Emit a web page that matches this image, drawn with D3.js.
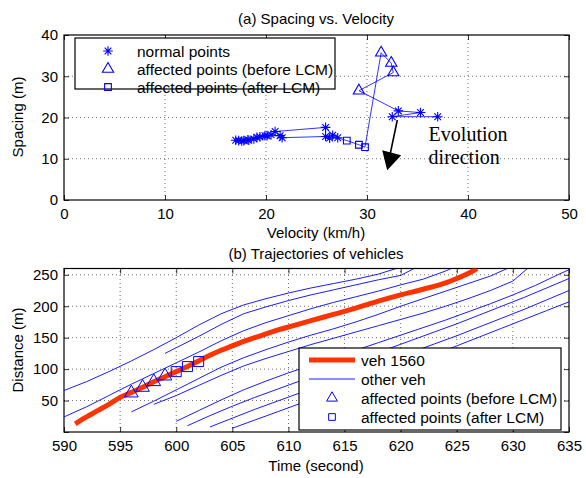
<!DOCTYPE html>
<html>
<head>
<meta charset="utf-8">
<script src="https://cdn.jsdelivr.net/npm/d3@7"></script>
<style>
  body { margin: 0; background: #fff; }
  svg { display: block; font-family: "Liberation Sans", Arial, sans-serif; }
</style>
</head>
<body>
<svg id="chart" width="586" height="478"></svg>
<script>
// ---- (a) spacing vs velocity, in time order ----
const velocity = [37.0, 32.5, 35.3, 33.1, 29.2, 32.6, 32.4, 31.4, 29.8, 29.2, 28.0, 27.1, 26.6, 25.9,
  20.9, 20.5, 19.9, 19.4, 18.8, 18.3, 17.8, 17.3, 17.0, 17.6, 18.2, 19.1, 20.1, 21.4, 21.6, 25.9, 26.3]
const spacing = [20.2, 20.2, 21.2, 21.6, 26.5, 30.9, 33.2, 35.7, 12.8, 13.4, 14.4, 15.1, 15.7, 17.6,
  16.6, 15.8, 15.6, 15.3, 14.8, 14.5, 14.4, 14.4, 14.5, 14.3, 14.6, 15.2, 15.6, 15.6, 15.1, 15.4, 15.0]
const pointKind = ['n', 'n', 'n', 'n', 't', 't', 't', 't', 's', 's', 's', 'n', 'n', 'n',
  'n', 'n', 'n', 'n', 'n', 'n', 'n', 'n', 'n', 'n', 'n', 'n', 'n', 'n', 'n', 'n', 'n']
const legendA = ['normal points', 'affected points (before LCM)', 'affected points (after LCM)']

// ---- (b) trajectories ----
const veh1560T = [591, 592, 593, 594, 595, 596, 597, 598, 599, 600, 601, 602, 603, 604, 605, 606, 607, 608, 609, 610,
  612, 614, 616, 618, 620, 622, 624, 625, 626, 626.8]
const veh1560D = [13, 24, 34, 44, 55, 63, 71, 80, 88, 96, 104, 113, 122, 130, 137, 144, 150, 156, 162, 167,
  177, 187, 197, 208, 218, 227, 237, 244, 252, 260]

const otherVeh = [
  { t: [590, 592, 594, 596, 598, 600, 602, 604, 606, 608, 610, 612, 614, 616, 618, 619.6],
    d: [66, 80, 96, 113, 131, 150, 170, 188, 202, 212, 221, 229, 236, 243, 251, 260] },
  { t: [599, 600, 602, 604, 606, 608, 610, 612, 614, 616, 618, 620, 621.2],
    d: [125, 134, 152, 171, 188, 199, 209, 218, 226, 234, 242, 249, 260] },
  { t: [590, 592, 594, 596, 598, 600, 602, 604, 606, 608, 610, 612, 614, 616, 618, 620, 622, 624, 624.5],
    d: [24, 40, 58, 76, 93, 110, 127, 145, 161, 174, 185, 196, 206, 215, 224, 234, 243, 256, 260] },
  { t: [596, 598, 600, 602, 604, 606, 608, 610, 612, 614, 616, 618, 620, 622, 624, 626, 628, 629.5],
    d: [32, 49, 67, 85, 103, 118, 131, 143, 154, 164, 175, 187, 200, 212, 224, 236, 248, 260] },
  { t: [598, 600, 602, 604, 606, 608, 610, 612, 614, 616, 618, 620, 622, 624, 626, 628, 630, 631.3],
    d: [44, 58, 74, 90, 105, 117, 128, 139, 149, 159, 169, 179, 189, 200, 212, 225, 240, 260] },
  { t: [600, 602, 604, 606, 608, 610, 612, 614, 616, 618, 620, 622, 624, 626, 628, 630, 632, 634, 635],
    d: [17, 34, 51, 67, 81, 94, 106, 118, 130, 142, 154, 166, 178, 191, 204, 218, 233, 250, 258] },
  { t: [601, 603, 605, 607, 609, 611, 613, 615, 617, 619, 621, 623, 625, 627, 629, 631, 633, 635],
    d: [10, 26, 41, 55, 68, 81, 94, 107, 120, 133, 146, 159, 172, 186, 200, 214, 229, 244] },
  { t: [603, 605, 607, 609, 611, 613, 615, 617, 619, 621, 623, 625, 627, 629, 631, 633, 635],
    d: [8, 22, 36, 49, 62, 75, 88, 101, 114, 127, 140, 153, 167, 181, 195, 210, 225] },
  { t: [605, 607, 609, 611, 613, 615, 617, 619, 621, 623, 625, 627, 629, 631, 633, 635],
    d: [6, 19, 32, 45, 58, 71, 84, 97, 110, 123, 137, 151, 165, 179, 193, 207] }
]
const beforeT = [596, 597, 598, 599]
const beforeD = [62, 71, 80, 89]
const afterT = [600, 601, 602]
const afterD = [96, 104, 112]
const legendB = ['veh 1560', 'other veh', 'affected points (before LCM)', 'affected points (after LCM)']

const svg = d3.select('#chart')
const blue = '#0000ff'
const red = '#ff3300'

function asterisk(r) {
    const k = r * 0.7
    return `M${-r},0L${r},0M0,${-r}L0,${r}M${-k},${-k}L${k},${k}M${-k},${k}L${k},${-k}`
}

function drawFrame(g, x, y, xTicks, yTicks, yLabelFmt) {
    const [x0, x1] = x.range()
    const [y0, y1] = y.range()
    // dotted grid
    g.append('g').selectAll('line').data(xTicks.slice(1, -1)).join('line')
        .attr('x1', d => x(d)).attr('x2', d => x(d)).attr('y1', y0).attr('y2', y1)
        .attr('stroke', '#000').attr('stroke-width', 0.8).attr('stroke-dasharray', '1,3').attr('opacity', 0.7)
    g.append('g').selectAll('line').data(yTicks.filter(v => v > y.domain()[0] && v < y.domain()[1])).join('line')
        .attr('y1', d => y(d)).attr('y2', d => y(d)).attr('x1', x0).attr('x2', x1)
        .attr('stroke', '#000').attr('stroke-width', 0.8).attr('stroke-dasharray', '1,3').attr('opacity', 0.7)

    const bottom = g.append('g').attr('transform', `translate(0,${y0})`)
        .call(d3.axisBottom(x).tickValues(xTicks).tickSizeInner(-5).tickSizeOuter(0).tickPadding(5))
    bottom.selectAll('text').attr('dy', '0.95em')
    g.append('g').attr('transform', `translate(0,${y1})`)
        .call(d3.axisTop(x).tickValues(xTicks).tickSizeInner(-5).tickSizeOuter(0).tickFormat(''))
    g.append('g').attr('transform', `translate(${x0},0)`)
        .call(d3.axisLeft(y).tickValues(yTicks).tickSizeInner(-5).tickSizeOuter(0).tickPadding(6)
            .tickFormat(yLabelFmt || (d => d)))
    g.append('g').attr('transform', `translate(${x1},0)`)
        .call(d3.axisRight(y).tickValues(yTicks).tickSizeInner(-5).tickSizeOuter(0).tickFormat(''))
    g.selectAll('.domain').remove()
    g.selectAll('.tick line').attr('stroke', '#000').attr('stroke-width', 0.8)
    g.selectAll('.tick text').attr('font-size', 15).attr('fill', '#000')
        .attr('font-family', '"Liberation Sans", Arial, sans-serif')
    g.append('rect').attr('x', x0).attr('y', y1).attr('width', x1 - x0).attr('height', y0 - y1)
        .attr('fill', 'none').attr('stroke', '#000').attr('stroke-width', 1.2)
}

function marker(sel, kind, size) {
    if (kind === 'n') return sel.attr('d', asterisk(size))
    if (kind === 't') return sel.attr('d', d3.symbol(d3.symbolTriangle, size)())
    return sel.attr('d', d3.symbol(d3.symbolSquare, size)())
}

// ================= (a) =================
const xA = d3.scaleLinear().domain([0, 50]).range([64, 569])
const yA = d3.scaleLinear().domain([0, 40]).range([200, 35])
const gA = svg.append('g')
drawFrame(gA, xA, yA, [0, 10, 20, 30, 40, 50], [0, 10, 20, 30, 40])

const markSize = { n: 4.8, t: 55, s: 45 }
const ptsA = velocity.map((v, i) => ({ v: v, s: spacing[i], k: pointKind[i] }))
gA.append('path').datum(ptsA)
    .attr('fill', 'none').attr('stroke', blue).attr('stroke-width', 0.8)
    .attr('d', d3.line().x(d => xA(d.v)).y(d => yA(d.s)))
gA.append('g').selectAll('path').data(ptsA).join('path')
    .attr('transform', d => `translate(${xA(d.v)},${yA(d.s)})`)
    .attr('fill', 'none').attr('stroke', blue).attr('stroke-width', 1.1)
    .each(function (d) { marker(d3.select(this), d.k, markSize[d.k]) })

// evolution arrow (data units)
const arrowFrom = [33.0, 19.4], arrowTo = [32.0, 7.2]
gA.append('line')
    .attr('x1', xA(arrowFrom[0])).attr('y1', yA(arrowFrom[1]))
    .attr('x2', xA(32.3)).attr('y2', yA(11.2))
    .attr('stroke', '#000').attr('stroke-width', 1.6)
const tip = [xA(arrowTo[0]), yA(arrowTo[1])]
gA.append('path')
    .attr('d', `M${tip[0]},${tip[1]}L${tip[0] - 5},${tip[1] - 20}L${tip[0] + 14},${tip[1] - 15}Z`)
    .attr('fill', '#000')
gA.append('text').attr('x', xA(36.1)).attr('y', yA(14.3))
    .attr('font-family', '"Liberation Serif", "Times New Roman", serif').attr('font-size', 20)
    .text('Evolution')
gA.append('text').attr('x', xA(36.1)).attr('y', yA(8.8))
    .attr('font-family', '"Liberation Serif", "Times New Roman", serif').attr('font-size', 20)
    .text('direction')

// legend (a)
const legA = gA.append('g').attr('transform', 'translate(75,38)')
legA.append('rect').attr('width', 260).attr('height', 51).attr('fill', '#fff')
    .attr('stroke', '#000').attr('stroke-width', 1.2)
const legKinds = ['n', 't', 's']
legendA.forEach((label, i) => {
    const row = legA.append('g').attr('transform', `translate(0,${13 + i * 18})`)
    marker(row.append('path'), legKinds[i], markSize[legKinds[i]])
        .attr('transform', 'translate(33,0)')
        .attr('fill', 'none').attr('stroke', blue).attr('stroke-width', 1.1)
    row.append('text').attr('x', 62).attr('y', 5.5).attr('font-size', 15.5).text(label)
})

svg.append('text').attr('x', 316).attr('y', 23.5).attr('text-anchor', 'middle')
    .attr('font-size', 15).text('(a) Spacing vs. Velocity')
svg.append('text').attr('x', 316).attr('y', 238).attr('text-anchor', 'middle')
    .attr('font-size', 15).text('Velocity (km/h)')
svg.append('text').attr('transform', 'translate(23,117) rotate(-90)').attr('text-anchor', 'middle')
    .attr('font-size', 15).text('Spacing (m)')

// ================= (b) =================
const xB = d3.scaleLinear().domain([590, 635]).range([64, 569])
const yB = d3.scaleLinear().domain([0, 260]).range([432, 268.5])
const gB = svg.append('g')
svg.append('clipPath').attr('id', 'clipB').append('rect')
    .attr('x', 64).attr('y', 268.5).attr('width', 505).attr('height', 163.5)
drawFrame(gB, xB, yB, d3.range(590, 636, 5), [0, 50, 100, 150, 200, 250], d => d === 0 ? '' : d)

const lineB = d3.line().x(d => xB(d[0])).y(d => yB(d[1]))
const plotB = gB.append('g').attr('clip-path', 'url(#clipB)')
plotB.selectAll('.other').data(otherVeh).join('path').attr('class', 'other')
    .attr('d', v => lineB(v.t.map((t, i) => [t, v.d[i]])))
    .attr('fill', 'none').attr('stroke', blue).attr('stroke-width', 0.9)
plotB.append('path').datum(veh1560T.map((t, i) => [t, veh1560D[i]]))
    .attr('d', d3.line().curve(d3.curveMonotoneX).x(d => xB(d[0])).y(d => yB(d[1])))
    .attr('fill', 'none').attr('stroke', red).attr('stroke-width', 5)
plotB.selectAll('.before').data(beforeT).join('path').attr('class', 'before')
    .attr('transform', (t, i) => `translate(${xB(t)},${yB(beforeD[i])})`)
    .attr('d', d3.symbol(d3.symbolTriangle, 80)())
    .attr('fill', 'none').attr('stroke', blue).attr('stroke-width', 1)
plotB.selectAll('.after').data(afterT).join('path').attr('class', 'after')
    .attr('transform', (t, i) => `translate(${xB(t)},${yB(afterD[i])})`)
    .attr('d', d3.symbol(d3.symbolSquare, 100)())
    .attr('fill', 'none').attr('stroke', blue).attr('stroke-width', 1)

// legend (b)
const legB = gB.append('g').attr('transform', 'translate(299,348)')
legB.append('rect').attr('width', 262).attr('height', 82).attr('fill', '#fff')
    .attr('stroke', '#000').attr('stroke-width', 1.2)
legendB.forEach((label, i) => {
    const row = legB.append('g').attr('transform', `translate(0,${12 + i * 19})`)
    if (i === 0) {
        row.append('line').attr('x1', 10).attr('x2', 56).attr('stroke', red).attr('stroke-width', 5)
    } else if (i === 1) {
        row.append('line').attr('x1', 10).attr('x2', 56).attr('stroke', blue).attr('stroke-width', 0.9)
    } else {
        marker(row.append('path'), i === 2 ? 't' : 's', i === 2 ? 50 : 45)
            .attr('transform', 'translate(33,0)')
            .attr('fill', 'none').attr('stroke', blue).attr('stroke-width', 1)
    }
    row.append('text').attr('x', 62).attr('y', 5.5).attr('font-size', 15.5).text(label)
})

svg.append('text').attr('x', 316).attr('y', 259).attr('text-anchor', 'middle')
    .attr('font-size', 15).text('(b) Trajectories of vehicles')
svg.append('text').attr('x', 316).attr('y', 471).attr('text-anchor', 'middle')
    .attr('font-size', 15).text('Time (second)')
svg.append('text').attr('transform', 'translate(23,350) rotate(-90)').attr('text-anchor', 'middle')
    .attr('font-size', 15).text('Distance (m)')
</script>
</body>
</html>
